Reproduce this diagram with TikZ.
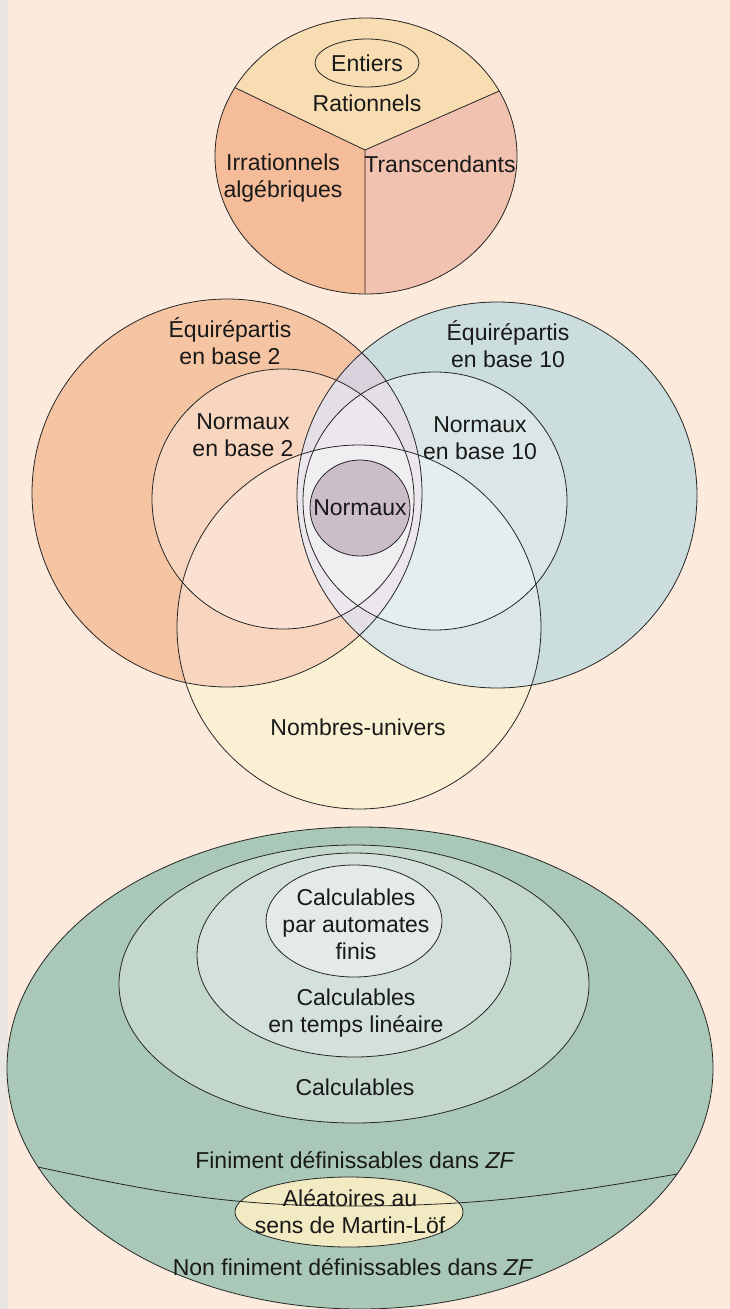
\documentclass[tikz,border=0pt]{standalone}
\usepackage{fontspec}
\setmainfont{Liberation Sans}
\usetikzlibrary{shapes.geometric}

\definecolor{paper}{HTML}{FCEBDC}
\definecolor{ratcol}{HTML}{F8DCB2}
\definecolor{irrcol}{HTML}{F4BC98}
\definecolor{transcol}{HTML}{F2C2B0}
\definecolor{eqtwo}{HTML}{F5C4A2}
\definecolor{eqten}{HTML}{CCDDDE}
\definecolor{lenscol}{HTML}{D9D1DC}
\definecolor{univcol}{HTML}{F8EBC4}
\definecolor{normcol}{HTML}{CBBEC9}
\definecolor{zfcol}{HTML}{A9C8B8}
\definecolor{calccol}{HTML}{C3D7CD}
\definecolor{lincol}{HTML}{D4E1DB}
\definecolor{autocol}{HTML}{E3EAE7}
\definecolor{mlcol}{HTML}{F2EAC2}
\definecolor{scan}{HTML}{E9E5E3}

\begin{document}
\begin{tikzpicture}[
    x=1pt, y=1pt,
    font=\fontsize{23}{27}\selectfont, % texte sans empattement
    % styles communs
    zone/.style={draw=black!85, line width=0.8pt},
    txt/.style={align=center, inner sep=0pt, text=black!90},
    veil/.style={fill=white, fill opacity=0.3}
]
    \useasboundingbox (0,0) rectangle (730,-1309);
    \fill[paper] (0,0) rectangle (730,-1309);
    \fill[scan] (0,0) rectangle (8,-1309);

    % --- 1. Nombres réels (haut) ---
    \coordinate (pie) at (365,-150);
    \begin{scope}
        \clip (366,-156) ellipse [x radius=151, y radius=138];
        \fill[ratcol] (pie) -- (171,-57) -- (171,0) -- (563,0) -- (563,-63) -- cycle;
        \fill[irrcol] (pie) -- (171,-57) -- (171,-320) -- (365,-320) -- cycle;
        \fill[transcol] (pie) -- (563,-63) -- (563,-320) -- (365,-320) -- cycle;
        \draw[zone] (171,-57) -- (pie) -- (563,-63) (pie) -- (365,-320);
    \end{scope}
    \draw[zone] (366,-156) ellipse [x radius=151, y radius=138];
    \draw[zone] (367,-63) ellipse [x radius=52, y radius=24];

    \node[txt] (entiers) at (367,-63) {Entiers};
    \node[txt] (rationnels) at (367,-103) {Rationnels};
    \node[txt] (irrationnels) at (283,-178) {Irrationnels\\algébriques};
    \node[txt] (transc) at (440,-164) {Transcendants};

    % --- 2. Normalité (milieu) ---
    % le jaune d'abord, recouvert ensuite par les deux grands cercles
    \fill[univcol] (359,-627) circle [radius=182];
    \fill[eqtwo] (227,-493) ellipse [x radius=195, y radius=194];
    \fill[eqten] (497,-495) ellipse [x radius=200, y radius=193];
    \begin{scope}
        \clip (227,-493) ellipse [x radius=195, y radius=194];
        \fill[lenscol] (497,-495) ellipse [x radius=200, y radius=193];
    \end{scope}
    \fill[veil] (283,-499) ellipse [x radius=131, y radius=130];
    \fill[veil] (435,-501) ellipse [x radius=132, y radius=129];
    \fill[veil] (359,-627) circle [radius=182];

    \draw[zone] (227,-493) ellipse [x radius=195, y radius=194];
    \draw[zone] (497,-495) ellipse [x radius=200, y radius=193];
    \draw[zone] (283,-499) ellipse [x radius=131, y radius=130];
    \draw[zone] (435,-501) ellipse [x radius=132, y radius=129];
    \draw[zone] (359,-627) circle [radius=182];
    \draw[zone, fill=normcol] (360,-508) ellipse [x radius=50, y radius=48];

    \node[txt] (equi2) at (230,-341) {Équirépartis\\en base 2};
    \node[txt] (norm2) at (243,-435) {Normaux\\en base 2};
    \node[txt] (equi10) at (508,-344) {Équirépartis\\en base 10};
    \node[txt] (norm10) at (480,-438) {Normaux\\en base 10};
    \node[txt] (normaux) at (360,-508) {Normaux};
    \node[txt] (univers) at (358,-727) {Nombres-univers};

    % --- 3. Définissabilité (bas) ---
    \fill[zfcol] (360,-1068) ellipse [x radius=353, y radius=241];
    \fill[calccol] (354,-984) ellipse [x radius=235, y radius=139];
    \fill[lincol] (354,-955) ellipse [x radius=157, y radius=102];
    \fill[autocol] (354,-921) ellipse [x radius=88, y radius=56];
    \draw[zone] (360,-1068) ellipse [x radius=353, y radius=241];
    \draw[zone] (354,-984) ellipse [x radius=235, y radius=139];
    \draw[zone] (354,-955) ellipse [x radius=157, y radius=102];
    \draw[zone] (354,-921) ellipse [x radius=88, y radius=56];
    \draw[zone, fill=mlcol] (349,-1212) ellipse [x radius=114, y radius=35];

    % frontière ZF, coupée au bord
    \begin{scope}
        \clip (360,-1068) ellipse [x radius=353, y radius=241];
        \draw[zone] (5,-1160) to[out=-12, in=180] (350,-1206) to[out=0, in=190] (700,-1170);
    \end{scope}

    \node[txt] (automates) at (356,-924) {Calculables\\par automates\\finis};
    \node[txt] (lineaire) at (356,-1013) {Calculables\\en temps linéaire};
    \node[txt] (calculables) at (355,-1087) {Calculables};
    \node[txt] (finiment) at (355,-1160) {Finiment définissables dans \textit{ZF}};
    \node[txt] (aleatoires) at (350,-1212) {Aléatoires au\\sens de Martin-Löf};
    \node[txt] (nonfini) at (353,-1267) {Non finiment définissables dans \textit{ZF}};
\end{tikzpicture}
\end{document}
